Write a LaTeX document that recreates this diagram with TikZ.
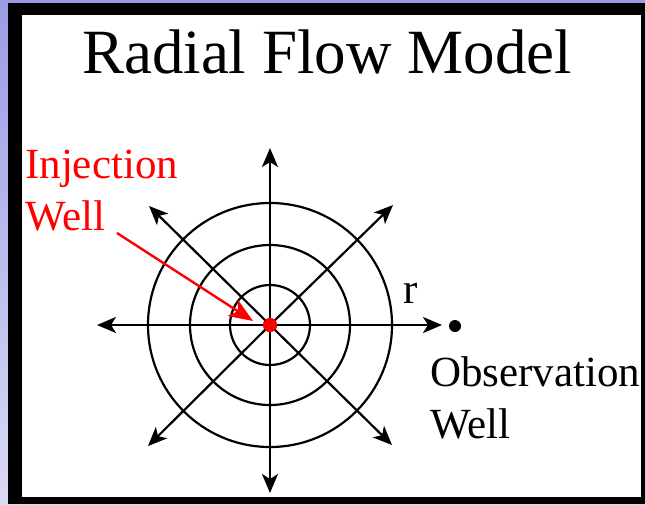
\documentclass[tikz,border=0pt]{standalone}
\usepackage{fontspec}
\setmainfont{Liberation Serif}
\newfontfamily\slidefont{Liberation Serif}
\usetikzlibrary{arrows.meta, positioning}
\definecolor{slidetop}{HTML}{9C9CE6}
\definecolor{slidebottom}{HTML}{DADAF4}
\definecolor{wellred}{HTML}{FF0000}

\begin{document}
\begin{tikzpicture}[
    x=1pt, y=-1pt,
    flow/.style = {-{Stealth[length=19pt, width=16pt, inset=5pt]}, line width=2.2pt},
    ring/.style = {line width=2.2pt},
    txt/.style = {font=\slidefont\fontsize{43}{52}\selectfont, align=left, inner sep=0pt}
  ]
  % slide background and frame
  \shade[top color=slidetop, bottom color=slidebottom] (0,0) rectangle (645,504);
  \fill[black] (8,3) rectangle (645,504);
  \fill[white] (22,15) rectangle (641,497);
  \useasboundingbox (0,0) rectangle (645,504);

  \node[anchor=base, inner sep=0pt, font=\slidefont\fontsize{63}{70}\selectfont] (title) at (327,73) {Radial Flow Model};

  % wells
  \node[circle, fill=wellred, inner sep=0pt, minimum size=14pt] (inj) at (270,325) {};
  \node[circle, fill=black, inner sep=0pt, minimum size=12pt] (obs) at (455,326) {};

  % rings
  \foreach \rad in {40,80,122}
    \draw[ring] (inj.center) circle[radius=\rad];

  % flow directions
  \coordinate (n)  at (270,148);
  \coordinate (s)  at (270,493);
  \coordinate (w)  at (97,325);
  \coordinate (e)  at (442,325);
  \coordinate (ne) at (393,205);
  \coordinate (nw) at (149,206);
  \coordinate (sw) at (148,446);
  \coordinate (se) at (392,445);
  \foreach \dir in {n,s,w,e,ne,nw,sw,se}
    \draw[flow] (inj.center) -- (\dir);
  \fill[wellred] (inj) circle[radius=7];

  % labels (anchored on the baseline of the last line)
  \node[txt, anchor=base west, text=wellred] (injlbl) at (25,230) {Injection\\Well};
  \node[txt, anchor=base west] (rlbl) at (403,303) {r};
  \node[txt, anchor=base west] (obslbl) at (430,438) {Observation\\Well};

  \coordinate (injtail) at (117,233);
  \draw[-{Stealth[length=24pt, width=19pt, inset=6pt]}, line width=2.4pt, wellred] (injtail) -- (253,321);
\end{tikzpicture}
\end{document}
